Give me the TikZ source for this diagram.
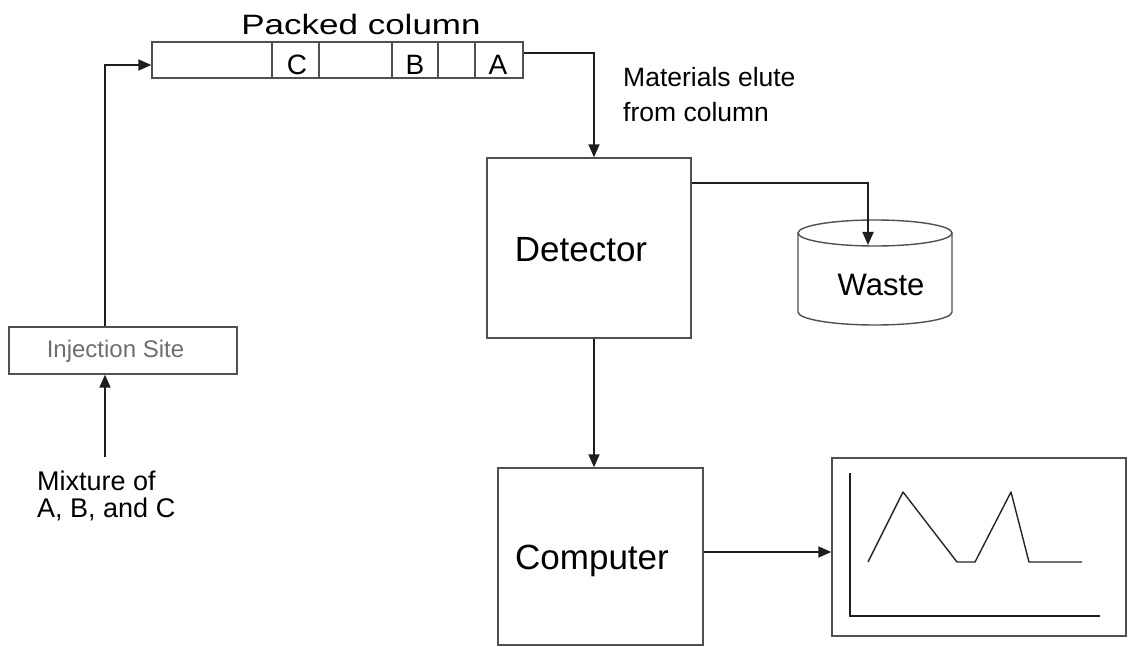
\documentclass[tikz,border=0pt]{standalone}
\usepackage{fontspec}
\setmainfont{Liberation Sans}
\newfontfamily\pcfont[FakeStretch=1.25]{Liberation Sans}
\usetikzlibrary{arrows.meta,calc}
\definecolor{boxline}{HTML}{505050}
\definecolor{conn}{HTML}{1E1E1E}
\definecolor{injtext}{HTML}{6E6E6E}
\begin{document}
\begin{tikzpicture}[x=1pt,y=-1pt,
  box/.style={draw=boxline, line width=1.4pt, inner sep=0pt},
  arr/.style={draw=conn, line width=1.8pt, -{Triangle[length=13pt,width=11pt]}},
  lbl/.style={inner sep=0pt, anchor=base},
  lbll/.style={inner sep=0pt, anchor=base west}]
\useasboundingbox[fill=white] (0,0) rectangle (1128,647);

% packed column
\node[box, minimum width=371pt, minimum height=36pt] (col) at (337.5,60) {};
\foreach \x in {272,319,392,438,475}
  \draw[boxline, line width=1.4pt] (\x,42) -- (\x,78);
\node[lbl] (colC) at (297,75) {\fontsize{28}{28}\selectfont C};
\node[lbl] (colB) at (415,75) {\fontsize{28}{28}\selectfont B};
\node[lbl] (colA) at (498,75) {\fontsize{28}{28}\selectfont A};
\node[lbl] (coltitle) at (361,35) {\pcfont\fontsize{28}{28}\selectfont Packed column};

% injection site
\node[box, minimum width=228pt, minimum height=47pt] (inj) at (123,350.5) {};
\node[lbl, text=injtext] (injtext) at (115.5,357) {\fontsize{24}{24}\selectfont Injection Site};

% mixture label
\node[lbll] (mix1) at (37,490) {\fontsize{27}{27}\selectfont Mixture of};
\node[lbll] (mix2) at (37,517) {\fontsize{27}{27}\selectfont A, B, and C};
\coordinate (mixtop) at (105,457);

% materials label
\node[lbll] (mat1) at (623,87) {\fontsize{26.5}{26.5}\selectfont Materials elute};
\node[lbll] (mat2) at (623,122) {\fontsize{26.5}{26.5}\selectfont from column};

% detector
\node[box, minimum width=204pt, minimum height=180pt] (det) at (589,248) {};
\node[lbl] (dettext) at (581,262) {\fontsize{35}{35}\selectfont Detector};

% waste cylinder
\draw[boxline, line width=1.4pt] (798,233) -- (798,312)
  arc[start angle=180, end angle=360, x radius=77pt, y radius=13pt] -- (952,233);
\draw[boxline, line width=1.4pt] (875,233) ellipse [x radius=77pt, y radius=13pt];
\node[lbl] (wastetext) at (881,295) {\fontsize{31}{31}\selectfont Waste};
\coordinate (wastein) at (868,245);

% computer
\node[box, minimum width=205pt, minimum height=177pt] (comp) at (600.5,556.5) {};
\node[lbl] (comptext) at (592,569) {\fontsize{35}{35}\selectfont Computer};

% chart
\node[box, minimum width=294pt, minimum height=178pt] (chart) at (979,547) {};
\draw[conn, line width=1.6pt] (850,473) -- (850,616) -- (1100,616);
\draw[black!85, line width=1.4pt, line join=round]
  (868,562) -- (903,492) -- (957,562) -- (975,562) -- (1011,492) -- (1029,562) -- (1082,562);

% connectors
\draw[arr] (mixtop) -- (mixtop |- inj.south);
\draw[arr] (inj.north -| mixtop) |- ([yshift=-5pt]col.west);
\draw[arr] ([yshift=7pt]col.east) -| ([xshift=5pt]det.north);
\draw[arr] ([yshift=65pt]det.east) -| (wastein);
\draw[arr] ([xshift=5pt]det.south) -- ([xshift=5pt]det.south |- comp.north);
\draw[arr] ([yshift=4.5pt]comp.east) -- ([yshift=4.5pt]comp.east -| chart.west);
\end{tikzpicture}
\end{document}
